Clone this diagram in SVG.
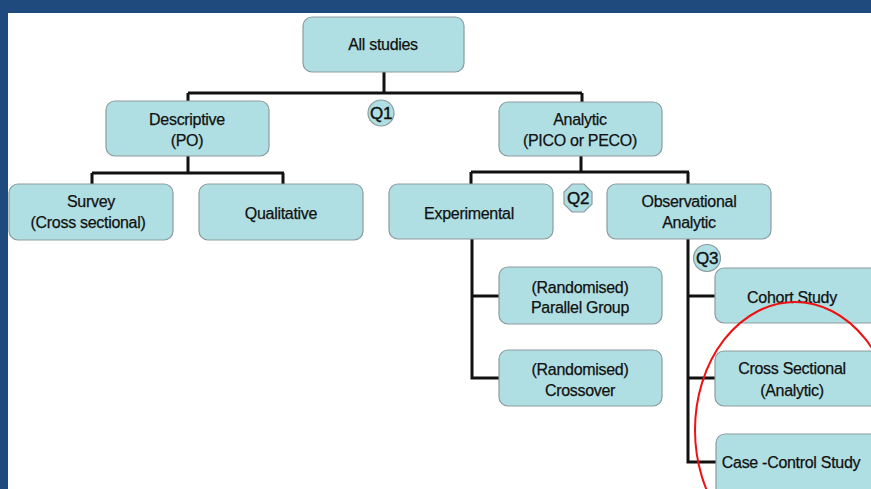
<svg xmlns="http://www.w3.org/2000/svg" width="871" height="489" viewBox="0 0 871 489">
<style>
.box{fill:#b0dfe3;stroke:#8b9c9e;stroke-width:1.2}
.q{fill:#b0dfe3;stroke:#8b9c9e;stroke-width:1.2}
.t{font-family:"Liberation Sans",Arial,sans-serif;font-size:16px;fill:#111;stroke:#111;stroke-width:0.25;text-anchor:middle;letter-spacing:-0.3px}
.ql{font-size:17px;stroke-width:0.4}
.c{fill:none;stroke:#111;stroke-width:3;stroke-linejoin:miter}
</style>
<rect x="0" y="0" width="871" height="489" fill="#1f4a7d"/>
<rect x="8" y="13" width="863" height="476" fill="#ffffff"/>
<g id="connectors">
<path class="c" d="M384 72 V93 M188 93 H582 M188 93 V101 M582 93 V102"/>
<path class="c" d="M188 156 V173 M92 173 H284 M92 173 V184 M283 173 V184"/>
<path class="c" d="M581 156 V172 M471 172 H689 M471 172 V184 M688 172 V184"/>
<path class="c" d="M472 239 V378 H499 M472 296 H499"/>
<path class="c" d="M688 239 V462 H716 M688 296 H715 M688 378 H715"/>
</g>
<g id="n-all"><rect class="box" x="303" y="17" width="161" height="55" rx="9"/><text class="t" x="383" y="50">All studies</text></g>
<g id="n-desc"><rect class="box" x="106" y="101" width="163" height="55" rx="9"/><text class="t" x="187" y="125">Descriptive</text><text class="t" x="187" y="146">(PO)</text></g>
<g id="n-anal"><rect class="box" x="499" y="102" width="163" height="54" rx="9"/><text class="t" x="580" y="125">Analytic</text><text class="t" x="580" y="146">(PICO or PECO)</text></g>
<g id="q1"><circle class="q" cx="381" cy="113" r="13"/><text class="t ql" x="381" y="119">Q1</text></g>
<g id="n-survey"><rect class="box" x="9" y="184" width="164" height="56" rx="9"/><text class="t" x="91" y="207">Survey</text><text class="t" x="88" y="228">(Cross sectional)</text></g>
<g id="n-qual"><rect class="box" x="199" y="184" width="164" height="56" rx="9"/><text class="t" x="281" y="219">Qualitative</text></g>
<g id="n-exp"><rect class="box" x="389" y="184" width="164" height="55" rx="9"/><text class="t" x="469" y="219">Experimental</text></g>
<g id="q2"><polygon class="q" points="572,184 584,184 592,192 592,204 584,212 572,212 564,204 564,192"/><text class="t ql" x="578" y="204">Q2</text></g>
<g id="n-obs"><rect class="box" x="607" y="184" width="164" height="55" rx="9"/><text class="t" x="689" y="207">Observational</text><text class="t" x="689" y="228">Analytic</text></g>
<g id="n-par"><rect class="box" x="499" y="267" width="163" height="57" rx="9"/><text class="t" x="580" y="293">(Randomised)</text><text class="t" x="580" y="313">Parallel Group</text></g>
<g id="n-cross"><rect class="box" x="499" y="350" width="163" height="56" rx="9"/><text class="t" x="580" y="375">(Randomised)</text><text class="t" x="580" y="396">Crossover</text></g>
<g id="q3"><circle class="q" cx="707" cy="258" r="13.5"/><text class="t ql" x="707" y="264">Q3</text></g>
<g id="n-cohort"><rect class="box" x="715" y="268" width="170" height="55" rx="9"/><text class="t" x="792" y="303">Cohort Study</text></g>
<g id="n-csa"><rect class="box" x="715" y="351" width="170" height="55" rx="9"/><text class="t" x="792" y="374">Cross Sectional</text><text class="t" x="792" y="396">(Analytic)</text></g>
<g id="n-cc"><rect class="box" x="716" y="434" width="170" height="70" rx="9"/><text class="t" x="791" y="468">Case -Control Study</text></g>
<ellipse cx="795" cy="430" rx="100" ry="128" fill="none" stroke="#ee1111" stroke-width="2"/>
</svg>
